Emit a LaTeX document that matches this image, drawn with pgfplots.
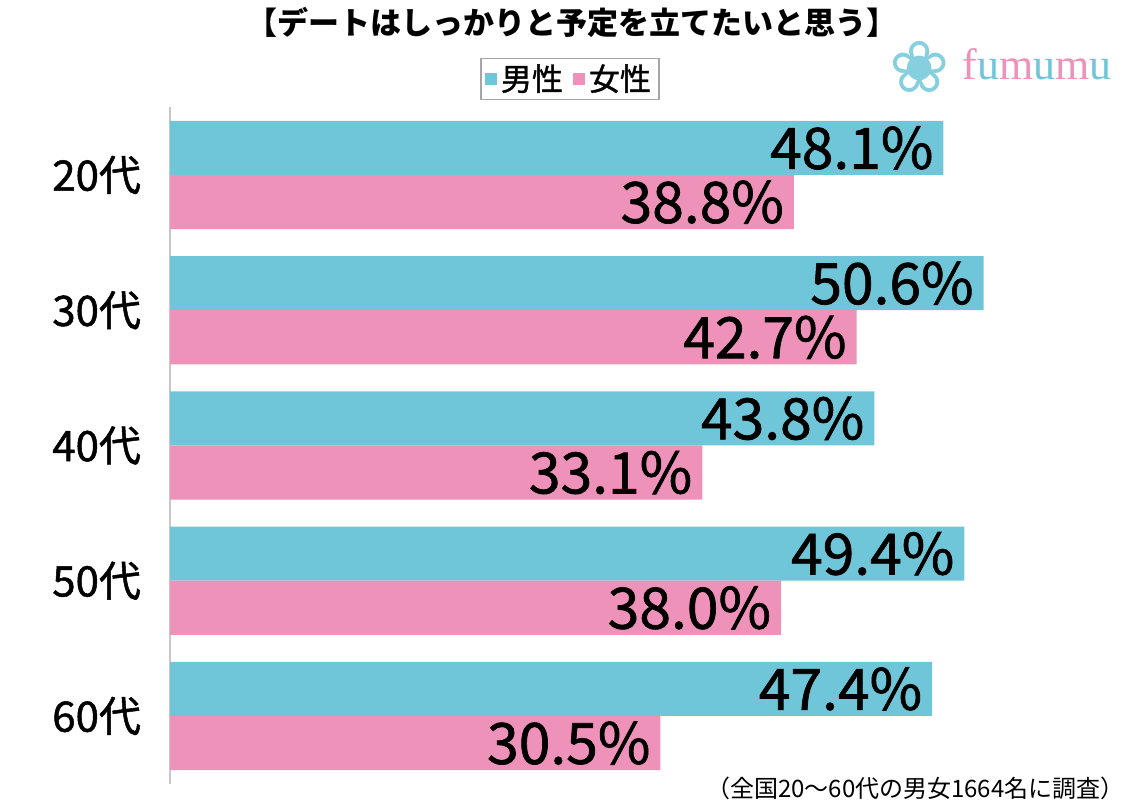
\documentclass[border=0pt]{standalone}
\usepackage{pgfplots}
\pgfplotsset{compat=1.18}
\usepackage{fontspec}
\setmainfont{Noto Sans CJK JP}
\newfontfamily\medfont[FakeBold=1.2]{Noto Sans CJK JP}
\newfontfamily\logofont{Liberation Serif}
\newfontfamily\symfont{DejaVu Sans}
\definecolor{cblue}{HTML}{70C6D9}
\definecolor{cpink}{HTML}{EF92B9}
\definecolor{axgray}{HTML}{C8C8C8}
\begin{document}
\begin{tikzpicture}[x=1pt,y=1pt]
\useasboundingbox (0,0) rectangle (572,400);
\begin{axis}[
  at={(85pt,8.2pt)}, anchor=south west,
  scale only axis, width=482.4pt, height=338.125pt,
  xmin=0, xmax=60, ymin=-0.5, ymax=4.5,
  axis x line=none, axis y line=left,
  y axis line style={draw=axgray, line width=0.8pt, -},
  ytick={0,1,2,3,4},
  yticklabels={60代,50代,40代,30代,20代},
  major tick length=0pt,
  yticklabel style={font=\medfont\fontsize{21}{21}\selectfont, xshift=-11pt},
  xbar, bar width=0.4,
  point meta=x,
  nodes near coords={\pgfmathprintnumber[fixed,fixed zerofill,precision=1,assume math mode=true]{\pgfplotspointmeta}\%},
  every node near coord/.append style={anchor=east, xshift=-1.5pt, font=\medfont\fontsize{28.5}{28.5}\selectfont, text=black},
  legend columns=2,
  legend style={at={(0.4146,1.042)}, anchor=center, draw=gray!70, line width=0.6pt,
    font=\medfont\fontsize{15.5}{15.5}\selectfont, inner xsep=2pt, inner ysep=1pt,
    /tikz/every even column/.append style={column sep=3pt}},
  legend image code/.code={\fill[#1] (0pt,-3pt) rectangle (6pt,3pt);},
  clip=false,
]
\addplot[fill=cblue, draw=none, bar shift=0.2] coordinates {(47.4,0) (49.4,1) (43.8,2) (50.6,3) (48.1,4)};
\addlegendentry{男性}
\addplot[fill=cpink, draw=none, bar shift=-0.2] coordinates {(30.5,0) (38.0,1) (33.1,2) (42.7,3) (38.8,4)};
\addlegendentry{女性}
\end{axis}
\node[font=\bfseries\fontsize{15.5}{15.5}\selectfont] at (286,389) {【デートはしっかりと予定を立てたいと思う】};
\node[font=\symfont\fontsize{36}{36}\selectfont, text=cblue!85] at (460,366.5) {❀};
\node[font=\logofont\fontsize{22}{22}\selectfont, anchor=west, inner sep=0pt] at (481,368) {\textcolor{cpink}{f}\textcolor{cblue}{u}\textcolor{cpink}{m}\textcolor{cblue}{u}\textcolor{cpink}{m}\textcolor{cblue}{u}};
\node[font=\fontsize{12}{12}\selectfont, anchor=east, inner sep=0pt] at (562.5,6) {（全国20～60代の男女1664名に調査）};
\end{tikzpicture}
\end{document}
